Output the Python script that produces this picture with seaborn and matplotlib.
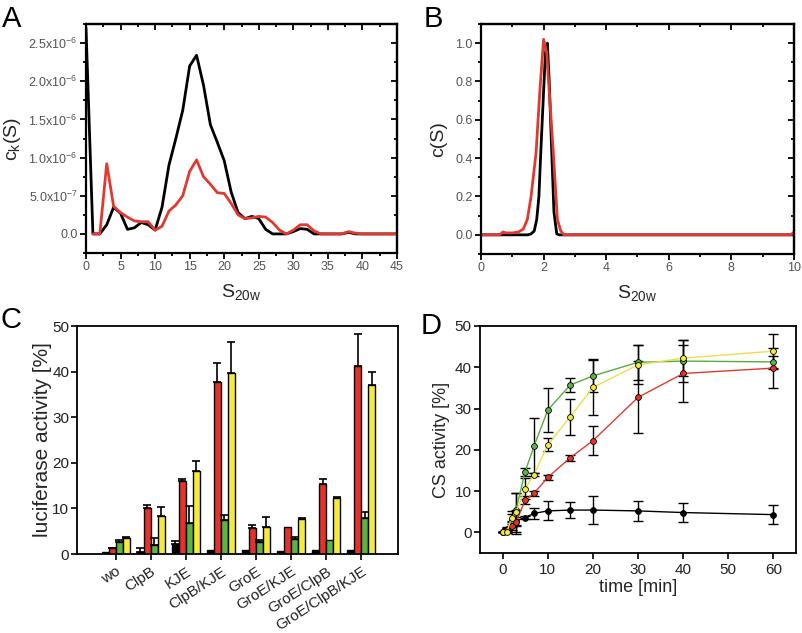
import numpy as np
import pandas as pd
import seaborn as sns
import matplotlib
matplotlib.use("Agg")
import matplotlib.pyplot as plt
import matplotlib.ticker as ticker

# ---- panel A: c_k(S) distributions ----
s_black_A = list(range(0, 46))
ck_black_A = [2.7e-6, 0, 0, 0.12e-6, 0.35e-6, 0.27e-6, 0.06e-6, 0.08e-6, 0.15e-6, 0.12e-6,
              0.05e-6, 0.35e-6, 0.9e-6, 1.25e-6, 1.62e-6, 2.2e-6, 2.34e-6, 1.95e-6, 1.43e-6, 1.2e-6,
              0.96e-6, 0.55e-6, 0.28e-6, 0.2e-6, 0.23e-6, 0.2e-6, 0.06e-6, 0, 0, 0,
              0.03e-6, 0.07e-6, 0.06e-6, 0, 0, 0, 0, 0, 0.02e-6, 0,
              0, 0, 0, 0, 0, 0]
s_red_A = list(range(1, 46))
ck_red_A = [0, 0, 0.92e-6, 0.36e-6, 0.28e-6, 0.22e-6, 0.17e-6, 0.16e-6, 0.16e-6,
            0.05e-6, 0.1e-6, 0.3e-6, 0.38e-6, 0.5e-6, 0.82e-6, 0.97e-6, 0.75e-6, 0.65e-6, 0.54e-6,
            0.53e-6, 0.4e-6, 0.25e-6, 0.2e-6, 0.21e-6, 0.23e-6, 0.22e-6, 0.15e-6, 0.05e-6, 0,
            0.05e-6, 0.12e-6, 0.12e-6, 0.04e-6, 0, 0, 0, 0, 0.03e-6, 0.01e-6,
            0, 0, 0, 0, 0, 0]

# ---- panel B: c(S) distributions ----
s_black_B = [0, 1.5, 1.6, 1.7, 1.78, 1.85, 1.91, 2.0, 2.06, 2.12, 2.18, 2.26, 2.33, 2.42, 2.5, 10]
c_black_B = [0, 0, 0.005, 0.02, 0.08, 0.2, 0.43, 0.75, 0.95, 1.0, 0.8, 0.43, 0.12, 0.005, 0, 0]
s_red_B = [0, 0.6, 0.7, 0.8, 1.0, 1.2, 1.35, 1.48, 1.6, 1.76, 1.88, 2.0, 2.1, 2.2, 2.31, 2.44,
           2.55, 2.65, 2.8, 9.9, 10]
c_red_B = [0, 0, 0.015, 0.01, 0.01, 0.015, 0.03, 0.08, 0.2, 0.43, 0.75, 1.02, 0.95, 0.7, 0.43,
           0.08, 0.02, 0.0, 0, 0, 0.015]

# ---- panel C: luciferase activity ----
conditions = ["wo", "ClpB", "KJE", "ClpB/KJE", "GroE", "GroE/KJE", "GroE/ClpB", "GroE/ClpB/KJE"]
luc_black = [0.45, 0.5, 2.3, 0.8, 0.8, 0.7, 0.9, 0.9]
luc_red = [1.3, 10.0, 15.9, 37.7, 5.6, 6.0, 15.3, 41.3]
luc_green = [2.7, 2.0, 6.9, 7.4, 2.7, 3.2, 3.1, 7.8]
luc_yellow = [3.6, 8.4, 18.2, 39.7, 6.0, 7.6, 12.2, 37.0]
err_black = [0, 0.8, 0.6, 0, 0, 0, 0, 0]
err_red = [0.1, 0.7, 0.6, 4.1, 0.7, 0, 1.2, 7.0]
err_green = [0.3, 1.4, 3.6, 1.2, 0.4, 0.6, 0, 1.4]
err_yellow = [0.1, 2.0, 2.3, 6.9, 2.2, 0.4, 0.3, 2.9]

# ---- panel D: CS activity over time ----
time_min = [0, 1, 2, 3, 5, 7, 10, 15, 20, 30, 40, 60]
cs_black = [0, 0.9, 2.0, 2.8, 3.6, 4.6, 5.2, 5.4, 5.4, 5.2, 4.8, 4.3]
cs_red = [0, 0.6, 1.6, 2.5, 7.8, 9.5, 13.3, 18.1, 22.2, 32.7, 38.5, 39.8]
cs_green = [0, 0.6, 3.0, 5.5, 14.7, 21.0, 29.6, 35.7, 37.9, 41.2, 41.5, 41.3]
cs_yellow = [0, 0.2, 3.6, 4.9, 10.6, 14.0, 21.2, 28.0, 35.1, 40.6, 42.2, 43.9]
cs_err_black = [0, 0.5, 0.8, 1.0, 0.4, 1.4, 2.3, 2.0, 3.3, 2.5, 2.4, 2.3]
cs_err_red = [0, 0.5, 1.0, 3.0, 1.0, 0.6, 0.6, 0.7, 3.5, 8.7, 7.0, 4.9]
cs_err_green = [0, 0.5, 1.5, 4.0, 1.0, 6.6, 5.3, 1.7, 4.0, 4.2, 5.0, 1.5]
cs_err_yellow = [0, 0.3, 1.5, 4.7, 2.5, 0.4, 1.6, 4.3, 6.7, 4.7, 4.3, 4.2]

RED = "#e4312a"
GREEN = "#5cb443"
YELLOW = "#f6ea3a"
LRED = "#e03a30"
LGREEN = "#57ad3c"
LYELLOW = "#e9e14a"

sns.set_theme(style="ticks")
plt.rcParams["font.family"] = ["Liberation Sans", "DejaVu Sans"]
plt.rcParams["mathtext.default"] = "regular"

fig = plt.figure(figsize=(8.03, 6.33), dpi=100)


def box(l, t, r, b):
    return fig.add_axes([l / 803, 1 - b / 633, (r - l) / 803, (b - t) / 633])


def style_sed(ax, xmaj, xmin, ymaj, ymin):
    for sp in ax.spines.values():
        sp.set_linewidth(1.6)
        sp.set_color("black")
    ax.xaxis.set_major_locator(ticker.MultipleLocator(xmaj))
    ax.xaxis.set_minor_locator(ticker.MultipleLocator(xmin))
    ax.yaxis.set_major_locator(ticker.MultipleLocator(ymaj))
    ax.yaxis.set_minor_locator(ticker.MultipleLocator(ymin))
    ax.tick_params(which="both", direction="out", width=1.3, color="black",
                   labelsize=9, labelcolor="#555555", pad=2)
    ax.tick_params(which="major", length=4)
    ax.tick_params(which="minor", length=2.5)
    # inward ticks on top and right
    top = ax.secondary_xaxis("top")
    top.xaxis.set_major_locator(ticker.MultipleLocator(xmaj))
    top.xaxis.set_minor_locator(ticker.MultipleLocator(xmin))
    top.tick_params(which="both", direction="in", width=1.3, color="black", labeltop=False)
    top.tick_params(which="major", length=4)
    top.tick_params(which="minor", length=2.5)
    right = ax.secondary_yaxis("right")
    right.yaxis.set_major_locator(ticker.MultipleLocator(ymaj))
    right.yaxis.set_minor_locator(ticker.MultipleLocator(ymin))
    right.tick_params(which="both", direction="in", width=1.3, color="black", labelright=False)
    right.tick_params(which="major", length=4)
    right.tick_params(which="minor", length=2.5)
    for sec in (top, right):
        for sp in sec.spines.values():
            sp.set_linewidth(1.6)


# ---------- A ----------
axA = box(86, 24, 397, 253)
dfA = pd.concat([
    pd.DataFrame({"s": s_black_A, "c": ck_black_A, "run": "black"}),
    pd.DataFrame({"s": s_red_A, "c": ck_red_A, "run": "red"}),
])
sns.lineplot(data=dfA, x="s", y="c", hue="run", palette={"black": "black", "red": LRED},
             linewidth=2.0, legend=False, ax=axA)
axA.set_xlim(0, 45)
axA.set_ylim(-0.25e-6, 2.75e-6)


def sci_fmt(v, pos):
    if abs(v) < 1e-12:
        return "0.0"
    exp = int(np.floor(np.log10(abs(v))))
    return "%.1fx10$^{%d}$" % (v / 10 ** exp, exp)


style_sed(axA, 5, 2.5, 0.5e-6, 0.25e-6)
axA.yaxis.set_major_formatter(ticker.FuncFormatter(sci_fmt))
axA.set_xlabel("S$_{20w}$", fontsize=14, labelpad=6)
axA.set_ylabel("c$_k$(S)", fontsize=14, labelpad=4)

# ---------- B ----------
axB = box(481, 24, 794, 254)
dfB = pd.concat([
    pd.DataFrame({"s": s_black_B, "c": c_black_B, "run": "black"}),
    pd.DataFrame({"s": s_red_B, "c": c_red_B, "run": "red"}),
])
sns.lineplot(data=dfB, x="s", y="c", hue="run", palette={"black": "black", "red": LRED},
             linewidth=2.0, legend=False, ax=axB)
axB.set_xlim(0, 10)
axB.set_ylim(-0.1, 1.1)
style_sed(axB, 2, 1, 0.2, 0.1)
axB.yaxis.set_major_formatter(ticker.FormatStrFormatter("%.1f"))
axB.set_xlabel("S$_{20w}$", fontsize=14, labelpad=6)
axB.set_ylabel("c(S)", fontsize=14, labelpad=6)

# ---------- C ----------
axC = box(77, 326, 398, 554)
hues = ["black", "red", "green", "yellow"]
vals = [luc_black, luc_red, luc_green, luc_yellow]
errs = [err_black, err_red, err_green, err_yellow]
dfC = pd.concat([
    pd.DataFrame({"cond": conditions, "act": v, "err": e, "set": h})
    for h, v, e in zip(hues, vals, errs)
])
sns.barplot(data=dfC, x="cond", y="act", hue="set", order=conditions, hue_order=hues,
            palette={"black": "black", "red": RED, "green": GREEN, "yellow": YELLOW},
            edgecolor="black", linewidth=1.0, errorbar=None, legend=False, width=0.8,
            saturation=1, ax=axC)
for i, h in enumerate(hues):
    for j in range(len(conditions)):
        p = axC.patches[i * len(conditions) + j]
        xc = p.get_x() + p.get_width() / 2
        e = errs[i][j]
        if e > 0:
            axC.errorbar(xc, p.get_height(), yerr=[[0], [e]], fmt="none", ecolor="black",
                         elinewidth=1.2, capsize=3, capthick=1.2, zorder=1)
axC.set_xlim(-1.1, 8.05)
axC.set_ylim(0, 50)
axC.yaxis.set_major_locator(ticker.MultipleLocator(10))
for sp in axC.spines.values():
    sp.set_linewidth(1.3)
    sp.set_color("black")
axC.tick_params(axis="both", direction="out", length=4, width=1.2, color="black",
                labelsize=11, labelcolor="#222222")
axC.tick_params(axis="y", pad=1.5)
axC.set_xticks(range(len(conditions)))
axC.set_xticklabels(conditions, rotation=33, ha="right", rotation_mode="anchor")
axC.set_xlabel("")
axC.set_ylabel("luciferase activity [%]", fontsize=15, labelpad=0)

# ---------- D ----------
axD = box(480, 326, 796, 553)
setsD = ["black", "green", "red", "yellow"]
ysD = {"black": cs_black, "green": cs_green, "red": cs_red, "yellow": cs_yellow}
esD = {"black": cs_err_black, "green": cs_err_green, "red": cs_err_red, "yellow": cs_err_yellow}
line_col = {"black": "black", "green": LGREEN, "red": LRED, "yellow": LYELLOW}
face_col = {"black": "black", "green": GREEN, "red": RED, "yellow": YELLOW}
dfD = pd.concat([pd.DataFrame({"t": time_min, "cs": ysD[k], "set": k}) for k in setsD])
for k in setsD:
    axD.errorbar(time_min, ysD[k], yerr=esD[k], fmt="none", ecolor="black", elinewidth=1.0,
                 capsize=3.5, capthick=1.0, zorder=2)
for z, k in enumerate(setsD):
    sub = dfD[dfD["set"] == k]
    sns.lineplot(data=sub, x="t", y="cs", color=line_col[k], linewidth=1.0, marker="o",
                 markersize=4.2, markerfacecolor=face_col[k], markeredgecolor="black",
                 markeredgewidth=0.6, legend=False, ax=axD, zorder=3 + z)
axD.set_xlim(-5, 65)
axD.set_ylim(-5, 50)
axD.xaxis.set_major_locator(ticker.MultipleLocator(10))
axD.yaxis.set_major_locator(ticker.MultipleLocator(10))
for sp in axD.spines.values():
    sp.set_linewidth(1.3)
    sp.set_color("black")
axD.tick_params(axis="both", direction="out", length=4, width=1.2, color="black",
                labelsize=11, labelcolor="#222222")
axD.tick_params(axis="y", pad=2)
axD.set_xlabel("time [min]", fontsize=13, labelpad=1)
axD.set_ylabel("CS activity [%]", fontsize=13, labelpad=3)

# panel letters
for letter, x, y in [("A", 2, 5), ("B", 424, 5), ("C", 0, 306), ("D", 421, 312)]:
    fig.text(x / 803, 1 - y / 633, letter, fontsize=21, va="top", ha="left", color="black")

fig.savefig("out.png", dpi=100)
